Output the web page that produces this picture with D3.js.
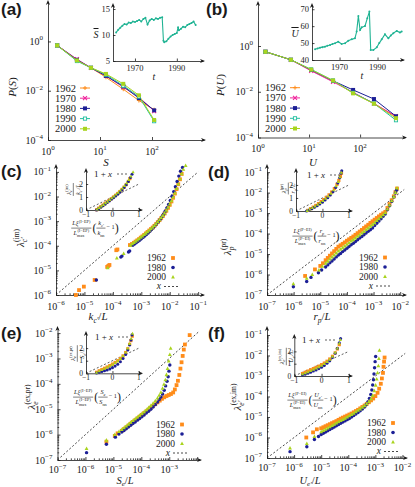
<!DOCTYPE html>
<html><head><meta charset="utf-8">
<script src="https://cdn.jsdelivr.net/npm/d3@7"></script>
<style>
html,body{margin:0;padding:0;background:#fff;}
svg{display:block;}
svg text{font-family:"Liberation Serif","DejaVu Serif",serif;fill:#1a1a1a;}
</style></head>
<body>
<svg id="fig" width="415" height="487"></svg>
<script>
// ================= DATA =================
const years = ["1962","1970","1980","1990","2000"];
// (a) distribution of S
const sizeS = [1.5, 3.6, 6.7, 13, 28, 56, 110];
const pS_1962 = [0.69, 0.17, 0.085, 0.035, 0.0115, 0.0040, 0.0017];
const pS_1970 = [0.69, 0.19, 0.085, 0.040, 0.014, 0.0055, 0.0015];
const pS_1980 = [0.69, 0.18, 0.085, 0.040, 0.015, 0.0050, 0.0016];
const pS_1990 = [0.69, 0.16, 0.085, 0.045, 0.016, 0.0058, 0.00058];
const pS_2000 = [0.69, 0.17, 0.085, 0.048, 0.019, 0.0065, 0.00065];
// (b) distribution of U
const sizeU = [1.4, 4.4, 11, 29.5, 73, 187, 505];
const pU_1962 = [0.56, 0.25, 0.090, 0.030, 0.0090, 0.0031, 0.00080];
const pU_1970 = [0.56, 0.25, 0.082, 0.027, 0.0095, 0.0030, 0.00085];
const pU_1980 = [0.56, 0.25, 0.090, 0.030, 0.0120, 0.0048, 0.00085];
const pU_1990 = [0.56, 0.25, 0.095, 0.031, 0.0090, 0.0031, 0.00057];
const pU_2000 = [0.56, 0.25, 0.093, 0.031, 0.0085, 0.0030, 0.00070];
// insets: mean S and U over time
const tS = [1961,1962,1963,1964,1965,1966,1967,1968,1969,1970,1971,1972,1973,1974,1975,1976,1977,1978,1979,1980,1981,1982,1983,1983.6,1984,1985,1986,1987,1988,1989,1990,1990.6,1991,1992,1993,1994,1995,1996,1997,1998,1999];
const sBar = [10.5,11.0,11.4,11.8,12.1,12.0,12.4,12.3,12.6,12.5,12.7,12.9,12.6,13.1,13.3,12.0,12.8,13.1,12.9,13.2,13.1,13.3,13.4,8.9,8.6,8.8,9.3,9.7,10.0,10.2,10.4,11.5,10.9,11.2,11.6,11.5,11.9,12.1,12.3,12.6,11.9];
const tU = [1957.1,1958.4,1959.7,1961,1962.3,1963.6,1965,1966.3,1967.6,1969.3,1971.1,1972.9,1974.6,1976.4,1978.1,1979,1979.9,1980.8,1981.7,1983.4,1984.6,1985.7,1986.4,1987.8,1989.6,1990.9,1992.2,1993.9,1995.7,1997,1998.3,2000.1,2001.8,2002.7];
const uBar = [46.3,46.8,47.3,47.6,47.9,48.4,48.9,49.4,49.9,50.8,49.5,49.9,51.4,52.2,52.8,56.8,66,57.7,59.3,60.1,64.6,68.6,45.9,45.9,47.5,50.0,52.2,55.2,52.8,54.5,55.8,57.2,56.2,56.8];

// (c)-(f) scatter data, stored as [log10 x, log10 y]
const c_1962 = [[-5.30,-6.00],[-5.19,-5.80],[-5.02,-5.66],[-4.64,-5.39],[-4.20,-4.86],[-4.16,-4.82],[-4.12,-4.78],[-3.88,-4.18],[-3.84,-4.15],[-3.40,-3.97],[-3.33,-3.93],[-3.26,-3.88],[-3.20,-3.83],[-3.14,-3.78],[-3.08,-3.73],[-3.02,-3.67],[-2.96,-3.62],[-2.90,-3.56],[-2.84,-3.50],[-2.78,-3.44],[-2.72,-3.38],[-2.66,-3.32],[-2.60,-3.26],[-2.54,-3.19],[-2.48,-3.12],[-2.42,-3.04],[-2.36,-2.96],[-2.30,-2.88],[-2.24,-2.79],[-2.18,-2.69],[-2.12,-2.58],[-2.06,-2.46],[-2.00,-2.34],[-1.94,-2.20],[-1.88,-2.05],[-1.82,-1.88],[-1.76,-1.70],[-1.70,-1.50],[-1.64,-1.30],[-1.58,-1.08]];
const c_1980 = [[-4.58,-5.39],[-3.72,-4.46],[-3.68,-4.42],[-3.45,-4.25],[-3.41,-4.21],[-3.30,-3.98],[-3.24,-3.93],[-3.18,-3.88],[-3.12,-3.83],[-3.06,-3.78],[-3.00,-3.72],[-2.94,-3.66],[-2.88,-3.60],[-2.82,-3.54],[-2.76,-3.48],[-2.70,-3.41],[-2.64,-3.34],[-2.58,-3.27],[-2.52,-3.19],[-2.46,-3.11],[-2.40,-3.02],[-2.34,-2.93],[-2.28,-2.83],[-2.22,-2.72],[-2.16,-2.60],[-2.10,-2.46],[-2.04,-2.32],[-1.98,-2.16],[-1.92,-1.99],[-1.86,-1.80],[-1.80,-1.60],[-1.74,-1.39],[-1.68,-1.17],[-1.62,-0.97],[-1.55,-0.82]];
const c_2000 = [[-4.18,-4.90],[-3.86,-4.50],[-3.62,-4.32],[-3.38,-3.98],[-3.32,-3.92],[-3.26,-3.87],[-3.20,-3.82],[-3.14,-3.77],[-3.08,-3.72],[-3.02,-3.66],[-2.96,-3.61],[-2.90,-3.55],[-2.84,-3.49],[-2.78,-3.43],[-2.72,-3.37],[-2.66,-3.31],[-2.60,-3.25],[-2.54,-3.18],[-2.48,-3.11],[-2.42,-3.03],[-2.36,-2.95],[-2.30,-2.86],[-2.24,-2.77],[-2.18,-2.67],[-2.12,-2.56],[-2.06,-2.44],[-2.00,-2.31],[-1.94,-2.17],[-1.88,-2.02],[-1.82,-1.86],[-1.76,-1.68],[-1.70,-1.49],[-1.64,-1.28],[-1.58,-1.08],[-1.52,-0.90],[-1.44,-0.74]];

const d_1962 = [[-5.57,-6.07],[-5.20,-5.75],[-5.00,-5.58],[-4.90,-5.45],[-4.80,-5.30],[-4.72,-5.19],[-4.64,-5.08],[-4.56,-4.97],[-4.48,-4.86],[-4.40,-4.75],[-4.32,-4.64],[-4.24,-4.57],[-4.16,-4.50],[-4.08,-4.43],[-4.00,-4.35],[-3.92,-4.28],[-3.84,-4.21],[-3.76,-4.14],[-3.68,-4.06],[-3.60,-3.98],[-3.52,-3.90],[-3.44,-3.82],[-3.36,-3.73],[-3.28,-3.65],[-3.20,-3.57],[-3.12,-3.48],[-3.04,-3.40],[-2.96,-3.32],[-2.88,-3.24],[-2.80,-3.16],[-2.72,-3.08],[-2.64,-3.01],[-2.56,-2.94],[-2.48,-2.75],[-2.40,-2.56],[-2.32,-2.37],[-2.24,-2.18],[-2.18,-1.98],[-2.12,-1.80]];
const d_1980 = [[-6.01,-6.60],[-5.51,-6.34],[-5.35,-6.14],[-5.07,-5.91],[-4.95,-5.78],[-4.80,-5.63],[-4.72,-5.53],[-4.64,-5.43],[-4.56,-5.34],[-4.48,-5.24],[-4.40,-5.14],[-4.32,-5.05],[-4.24,-4.97],[-4.16,-4.88],[-4.08,-4.80],[-4.00,-4.72],[-3.92,-4.63],[-3.84,-4.55],[-3.76,-4.47],[-3.68,-4.39],[-3.60,-4.30],[-3.52,-4.22],[-3.44,-4.14],[-3.36,-4.06],[-3.28,-3.97],[-3.20,-3.89],[-3.12,-3.81],[-3.04,-3.73],[-2.96,-3.61],[-2.88,-3.50],[-2.80,-3.39],[-2.72,-3.28],[-2.64,-3.16],[-2.56,-3.05],[-2.48,-2.84],[-2.40,-2.64],[-2.32,-2.43],[-2.24,-2.22],[-2.18,-2.02],[-2.14,-1.88]];
const d_2000 = [[-6.01,-6.46],[-5.51,-6.19],[-5.30,-6.00],[-5.05,-5.78],[-4.92,-5.60],[-4.80,-5.45],[-4.72,-5.35],[-4.64,-5.25],[-4.56,-5.15],[-4.48,-5.05],[-4.40,-4.95],[-4.32,-4.85],[-4.24,-4.77],[-4.16,-4.69],[-4.08,-4.61],[-4.00,-4.53],[-3.92,-4.45],[-3.84,-4.37],[-3.76,-4.30],[-3.68,-4.22],[-3.60,-4.14],[-3.52,-4.06],[-3.44,-3.98],[-3.36,-3.90],[-3.28,-3.81],[-3.20,-3.73],[-3.12,-3.65],[-3.04,-3.56],[-2.96,-3.47],[-2.88,-3.37],[-2.80,-3.28],[-2.72,-3.18],[-2.64,-3.08],[-2.56,-2.99],[-2.48,-2.80],[-2.40,-2.61],[-2.32,-2.40],[-2.24,-2.20],[-2.18,-2.00],[-2.12,-1.78]];

const e_1962 = [[-5.25,-6.28],[-4.95,-6.05],[-4.85,-5.95],[-4.70,-5.85],[-4.62,-5.78],[-4.54,-5.71],[-4.46,-5.64],[-4.38,-5.57],[-4.30,-5.50],[-4.22,-5.43],[-4.14,-5.36],[-4.06,-5.29],[-3.98,-5.22],[-3.90,-5.15],[-3.82,-5.08],[-3.74,-5.01],[-3.66,-4.94],[-3.58,-4.87],[-3.50,-4.80],[-3.42,-4.73],[-3.34,-4.66],[-3.26,-4.59],[-3.18,-4.53],[-3.10,-4.48],[-3.02,-4.44],[-2.94,-4.40],[-2.86,-4.34],[-2.80,-4.22],[-2.74,-4.05],[-2.69,-3.88],[-2.64,-3.65],[-2.60,-3.40],[-2.56,-3.15],[-2.52,-2.90],[-2.48,-2.65],[-2.44,-2.45],[-2.27,-2.08]];
const e_1980 = [[-5.96,-6.71],[-5.25,-6.38],[-4.93,-6.10],[-4.80,-5.98],[-4.70,-5.90],[-4.62,-5.84],[-4.54,-5.77],[-4.46,-5.70],[-4.38,-5.63],[-4.30,-5.56],[-4.22,-5.50],[-4.14,-5.43],[-4.06,-5.37],[-3.98,-5.30],[-3.90,-5.23],[-3.82,-5.15],[-3.74,-5.08],[-3.66,-5.00],[-3.58,-4.91],[-3.50,-4.82],[-3.42,-4.72],[-3.36,-4.62],[-3.30,-4.52],[-3.24,-4.40],[-3.18,-4.25],[-3.13,-4.08],[-3.08,-3.90],[-3.04,-3.72],[-3.01,-3.50],[-2.98,-3.26]];
const e_2000 = [[-5.96,-6.55],[-5.25,-6.22],[-4.95,-6.00],[-4.80,-5.88],[-4.70,-5.80],[-4.62,-5.73],[-4.54,-5.66],[-4.46,-5.59],[-4.38,-5.52],[-4.30,-5.45],[-4.22,-5.38],[-4.14,-5.31],[-4.06,-5.24],[-3.98,-5.17],[-3.90,-5.10],[-3.82,-5.02],[-3.74,-4.94],[-3.66,-4.86],[-3.58,-4.77],[-3.50,-4.67],[-3.42,-4.56],[-3.36,-4.45],[-3.30,-4.33],[-3.24,-4.18],[-3.19,-4.02],[-3.14,-3.84],[-3.10,-3.64],[-3.06,-3.40],[-3.02,-3.10],[-2.98,-2.85],[-2.95,-2.60]];

const f_1962 = [[-5.55,-6.00],[-5.30,-5.75],[-5.16,-5.60],[-5.00,-5.55],[-4.92,-5.50],[-4.84,-5.45],[-4.76,-5.40],[-4.68,-5.35],[-4.60,-5.30],[-4.52,-5.25],[-4.44,-5.20],[-4.36,-5.14],[-4.28,-5.08],[-4.20,-5.03],[-4.12,-4.98],[-4.04,-4.93],[-3.96,-4.88],[-3.88,-4.83],[-3.80,-4.77],[-3.72,-4.71],[-3.64,-4.65],[-3.56,-4.58],[-3.48,-4.51],[-3.40,-4.44],[-3.32,-4.36],[-3.24,-4.28],[-3.16,-4.19],[-3.08,-4.10],[-3.00,-3.98],[-2.92,-3.82],[-2.86,-3.62],[-2.80,-3.38],[-2.76,-3.12],[-2.72,-2.85],[-2.70,-2.55],[-2.68,-2.30],[-2.66,-2.10]];
const f_1980 = [[-6.15,-6.69],[-5.53,-6.45],[-5.25,-6.10],[-5.10,-5.95],[-5.00,-5.85],[-4.92,-5.79],[-4.84,-5.73],[-4.76,-5.67],[-4.68,-5.61],[-4.60,-5.55],[-4.52,-5.49],[-4.44,-5.43],[-4.36,-5.37],[-4.28,-5.31],[-4.20,-5.25],[-4.12,-5.19],[-4.04,-5.13],[-3.96,-5.07],[-3.88,-5.00],[-3.80,-4.93],[-3.72,-4.86],[-3.64,-4.78],[-3.56,-4.70],[-3.48,-4.61],[-3.40,-4.51],[-3.34,-4.40],[-3.28,-4.27],[-3.22,-4.10],[-3.17,-3.90],[-3.13,-3.68],[-3.10,-3.44],[-3.07,-3.18],[-3.05,-2.90],[-3.03,-2.60],[-3.01,-2.30],[-2.99,-2.05]];
const f_2000 = [[-6.15,-6.52],[-5.53,-6.30],[-5.25,-5.95],[-5.00,-5.72],[-4.92,-5.66],[-4.84,-5.60],[-4.76,-5.54],[-4.68,-5.48],[-4.60,-5.42],[-4.52,-5.36],[-4.44,-5.30],[-4.36,-5.24],[-4.28,-5.18],[-4.20,-5.12],[-4.12,-5.06],[-4.04,-5.00],[-3.96,-4.94],[-3.88,-4.88],[-3.80,-4.82],[-3.72,-4.75],[-3.64,-4.68],[-3.56,-4.61],[-3.48,-4.53],[-3.40,-4.45],[-3.32,-4.36],[-3.24,-4.25],[-3.16,-4.12],[-3.10,-3.95],[-3.04,-3.72],[-2.99,-3.45],[-2.95,-3.15],[-2.92,-2.85],[-2.89,-2.50],[-2.87,-2.15],[-2.85,-1.75]];

// insets of (c)-(f): rescaled variables (linear)
const ci_1962 = [[-0.6,0.02],[-0.52,0.14],[-0.44,0.26],[-0.36,0.38],[-0.28,0.50],[-0.2,0.62],[-0.12,0.74],[-0.04,0.87],[0.04,1.0],[0.12,1.13],[0.2,1.27],[0.28,1.42],[0.36,1.58],[0.44,1.76],[0.52,1.96],[0.6,2.2],[0.66,2.42]];
const ci_1980 = [[-0.6,0.0],[-0.52,0.1],[-0.44,0.21],[-0.36,0.33],[-0.28,0.45],[-0.2,0.57],[-0.12,0.69],[-0.04,0.82],[0.04,0.95],[0.12,1.08],[0.2,1.22],[0.28,1.37],[0.36,1.54],[0.44,1.73],[0.52,1.95],[0.6,2.2],[0.68,2.5],[0.74,2.75]];
const ci_2000 = [[-0.58,0.05],[-0.5,0.17],[-0.42,0.29],[-0.34,0.41],[-0.26,0.53],[-0.18,0.66],[-0.1,0.79],[-0.02,0.92],[0.06,1.06],[0.14,1.2],[0.22,1.35],[0.3,1.51],[0.38,1.68],[0.46,1.87],[0.54,2.08],[0.62,2.32],[0.7,2.6],[0.78,2.92]];
const di_1962 = [[-0.55,0.05],[-0.45,0.18],[-0.35,0.3],[-0.25,0.43],[-0.15,0.57],[-0.05,0.72],[0.05,0.88],[0.15,1.05],[0.25,1.24],[0.35,1.46],[0.45,1.72],[0.55,2.05],[0.62,2.35],[0.68,2.65],[0.72,2.9]];
const di_1980 = [[-0.6,0.0],[-0.5,0.08],[-0.4,0.18],[-0.3,0.29],[-0.2,0.41],[-0.1,0.54],[0,0.68],[0.1,0.84],[0.2,1.02],[0.3,1.23],[0.4,1.48],[0.5,1.8],[0.58,2.15],[0.65,2.55],[0.7,2.9],[0.73,3.1]];
const di_2000 = [[-0.58,0.02],[-0.48,0.13],[-0.38,0.24],[-0.28,0.36],[-0.18,0.49],[-0.08,0.63],[0.02,0.78],[0.12,0.95],[0.22,1.13],[0.32,1.35],[0.42,1.6],[0.52,1.92],[0.6,2.25],[0.66,2.6],[0.71,2.95]];
const ei_1962 = [[-0.6,0.08],[-0.5,0.2],[-0.4,0.3],[-0.3,0.4],[-0.2,0.5],[-0.1,0.61],[0,0.73],[0.1,0.86],[0.2,1.0],[0.3,1.17],[0.4,1.38],[0.5,1.65],[0.58,1.95],[0.65,2.3],[0.7,2.6],[0.75,2.95]];
const ei_1980 = [[-0.6,0.02],[-0.5,0.08],[-0.4,0.14],[-0.3,0.2],[-0.2,0.27],[-0.1,0.35],[0,0.45],[0.1,0.57],[0.2,0.72],[0.3,0.92],[0.4,1.18],[0.5,1.5],[0.58,1.85],[0.65,2.25],[0.7,2.65],[0.74,3.05]];
const ei_2000 = [[-0.6,0.06],[-0.5,0.17],[-0.4,0.27],[-0.3,0.37],[-0.2,0.47],[-0.1,0.58],[0,0.7],[0.1,0.83],[0.2,0.98],[0.3,1.16],[0.4,1.38],[0.5,1.66],[0.58,1.98],[0.65,2.35],[0.71,2.75],[0.76,3.15]];
const fi_1962 = [[-0.7,0.2],[-0.6,0.3],[-0.5,0.4],[-0.4,0.5],[-0.3,0.6],[-0.2,0.7],[-0.1,0.8],[0,0.92],[0.1,1.05],[0.2,1.2],[0.3,1.38],[0.4,1.6],[0.5,1.88],[0.58,2.2],[0.65,2.55]];
const fi_1980 = [[-0.7,0.08],[-0.6,0.15],[-0.5,0.23],[-0.4,0.31],[-0.3,0.4],[-0.2,0.49],[-0.1,0.6],[0,0.72],[0.1,0.86],[0.2,1.03],[0.3,1.23],[0.4,1.5],[0.5,1.85],[0.58,2.25],[0.65,2.7],[0.7,3.05]];
const fi_2000 = [[-0.7,0.15],[-0.6,0.24],[-0.5,0.33],[-0.4,0.42],[-0.3,0.52],[-0.2,0.62],[-0.1,0.73],[0,0.85],[0.1,0.99],[0.2,1.15],[0.3,1.34],[0.4,1.58],[0.5,1.9],[0.58,2.25],[0.65,2.65],[0.69,2.95]];

// ================= STYLE =================
const INK = "#1a1a1a";
const COL = {"1962":"#ff8c1a","1970":"#f0259c","1980":"#1c1f96","1990":"#22bfa0","2000":"#a9d41e"};
const LINECOL = "#1fb393";
const svg = d3.select("#fig");

// ================= HELPERS =================
function layout(parent, items, fs) {
  let cx = 0;
  for (const it of items) {
    if (it.frac) {
      const fg = parent.append("g");
      const n = fg.append("g"), d = fg.append("g");
      const wn = layout(n, it.frac[0], fs), wd = layout(d, it.frac[1], fs);
      const w = Math.max(wn, wd) + 2;
      n.attr("transform", `translate(${cx + (w - wn) / 2},${-fs * 0.72})`);
      d.attr("transform", `translate(${cx + (w - wd) / 2},${fs * 0.78})`);
      fg.append("line").attr("x1", cx).attr("x2", cx + w).attr("y1", -fs * 0.3).attr("y2", -fs * 0.3)
        .attr("stroke", INK).attr("stroke-width", 0.55);
      cx += w + 1;
      continue;
    }
    const f = fs * (it.sc || 1);
    let w = 0;
    if (it.t) {
      const t = parent.append("text").attr("x", cx).attr("y", it.dy || 0).attr("font-size", f).text(it.t);
      if (it.it) t.attr("font-style", "italic");
      w = t.node().getComputedTextLength();
    }
    let w2 = 0;
    if (it.sup) {
      const s = parent.append("text").attr("x", cx + w + 0.3).attr("y", -fs * 0.42).attr("font-size", fs * 0.68).text(it.sup);
      w2 = Math.max(w2, s.node().getComputedTextLength() + 0.3);
    }
    if (it.sub) {
      const s = parent.append("text").attr("x", cx + w).attr("y", fs * 0.28).attr("font-size", fs * 0.68).text(it.sub);
      if (!it.subup) s.attr("font-style", "italic");
      w2 = Math.max(w2, s.node().getComputedTextLength());
    }
    cx += w + w2;
  }
  return cx;
}
function hlabel(x, y, items, fs, anchor = "middle") {
  const g = svg.append("g");
  const w = layout(g, items, fs);
  const dx = anchor === "middle" ? -w / 2 : anchor === "end" ? -w : 0;
  g.attr("transform", `translate(${x + dx},${y})`);
}
function rlabel(x, y, items, fs) {
  const g = svg.append("g").attr("transform", `translate(${x},${y}) rotate(-90)`);
  const inner = g.append("g");
  const w = layout(inner, items, fs);
  inner.attr("transform", `translate(${-w / 2},${fs * 0.35})`);
}
function logText(sel, v, fs) {
  const k = Math.round(Math.log10(v));
  sel.text("10").append("tspan").attr("dy", -fs * 0.45).attr("font-size", fs * 0.7).text(k < 0 ? "−" + (-k) : String(k));
}
function arrowR(g, x, y) { g.append("path").attr("d", `M${x},${y}L${x - 5},${y - 2.1}L${x - 3.6},${y}L${x - 5},${y + 2.1}Z`).attr("fill", INK); }
function arrowU(g, x, y) { g.append("path").attr("d", `M${x},${y}L${x - 2.1},${y + 5}L${x},${y + 3.6}L${x + 2.1},${y + 5}Z`).attr("fill", INK); }
function minorsOf(lo, hi) { const m = []; for (let k = lo; k < hi; k++) for (let j = 2; j <= 9; j++) m.push(j * Math.pow(10, k)); return m; }

function frame(x, y, o) {
  const g = svg.append("g");
  const [xa, xb] = x.range(), [yb, yt] = y.range();
  const ts = o.ts || 3;
  g.append("g").attr("transform", `translate(0,${yb})`)
    .call(d3.axisBottom(x).tickValues(o.xt).tickSize(-ts).tickSizeOuter(0).tickFormat(""));
  g.append("g").attr("transform", `translate(${xa},0)`)
    .call(d3.axisLeft(y).tickValues(o.yt).tickSize(-ts).tickSizeOuter(0).tickFormat(""));
  if (o.xm) g.append("g").attr("transform", `translate(0,${yb})`)
    .call(d3.axisBottom(x).tickValues(o.xm.filter(v => x(v) < xb - 3)).tickSize(-ts * 0.55).tickFormat("")).select(".domain").remove();
  if (o.ym) g.append("g").attr("transform", `translate(${xa},0)`)
    .call(d3.axisLeft(y).tickValues(o.ym.filter(v => y(v) > yt + 3)).tickSize(-ts * 0.55).tickFormat("")).select(".domain").remove();
  g.selectAll(".domain,.tick line").attr("stroke", INK).attr("stroke-width", o.sw || 0.8);
  g.selectAll(".tick text").remove();
  arrowR(g, xb + 2, yb); arrowU(g, xa, yt - 2);
  const fs = o.fs;
  (o.xl || []).forEach(v => {
    const t = g.append("text").attr("x", x(v) + (o.xlDx || 0)).attr("y", yb + o.xlo).attr("text-anchor", "middle").attr("font-size", fs);
    if (o.log) logText(t, v, fs); else t.text(o.fmt(v));
  });
  (o.yl || []).forEach(v => {
    const t = g.append("text").attr("x", xa - o.ylo).attr("y", y(v) + fs * 0.35).attr("text-anchor", "end").attr("font-size", fs);
    if (o.log) logText(t, v, fs); else t.text(o.fmt(v));
  });
  return g;
}
function marker(g, type, cx, cy, col, sz) {
  const h = sz / 2;
  if (type === "plus") g.append("path").attr("d", `M${cx - h},${cy}H${cx + h}M${cx},${cy - h}V${cy + h}`).attr("stroke", col).attr("stroke-width", 1);
  else if (type === "cross") g.append("path").attr("d", `M${cx - h},${cy - h}L${cx + h},${cy + h}M${cx - h},${cy + h}L${cx + h},${cy - h}`).attr("stroke", col).attr("stroke-width", 1.1);
  else if (type === "sq") g.append("rect").attr("x", cx - h).attr("y", cy - h).attr("width", sz).attr("height", sz).attr("fill", col);
  else if (type === "osq") g.append("rect").attr("x", cx - h + 0.4).attr("y", cy - h + 0.4).attr("width", sz - 0.8).attr("height", sz - 0.8).attr("fill", "#fff").attr("stroke", col).attr("stroke-width", 0.9);
  else if (type === "circ") g.append("circle").attr("cx", cx).attr("cy", cy).attr("r", h * 0.95).attr("fill", col);
  else if (type === "tri") g.append("path").attr("d", `M${cx},${cy - h * 1.1}L${cx + h},${cy + h * 0.75}L${cx - h},${cy + h * 0.75}Z`).attr("fill", col);
}
function panelLabel(x, y, s) {
  svg.append("text").attr("x", x).attr("y", y).attr("font-size", 17).attr("font-weight", "bold")
    .style("font-family", "'Liberation Sans',Arial,sans-serif").text(s);
}

// ================= PANELS (a),(b) =================
const markers5 = ["plus", "cross", "sq", "osq", "sq"];
function distPanel(p) {
  frame(p.x, p.y, { xt: p.xt, yt: p.yt, xl: p.xt, yl: p.yt, log: true, fs: 10, xlo: 14.5, ylo: 5 });
  const lg = d3.line().x(d => p.x(d[0])).y(d => p.y(d[1]));
  const g = svg.append("g");
  p.series.forEach((vals, i) => {
    const pts = p.sizes.map((s, j) => [s, vals[j]]);
    g.append("path").datum(pts).attr("d", lg).attr("fill", "none").attr("stroke", COL[years[i]]).attr("stroke-width", 1);
  });
  p.series.forEach((vals, i) => {
    p.sizes.forEach((s, j) => marker(g, markers5[i], p.x(s), p.y(vals[j]), COL[years[i]], 4));
  });
  years.forEach((yr, i) => {
    const yy = p.legY + i * 10.2;
    svg.append("text").attr("x", p.legX).attr("y", yy + 3.5).attr("font-size", 10.5).text(yr);
    svg.append("line").attr("x1", p.legL).attr("x2", p.legL + 10).attr("y1", yy).attr("y2", yy).attr("stroke", COL[yr]).attr("stroke-width", 1);
    marker(svg, markers5[i], p.legL + 5, yy, COL[yr], 4);
  });
}
function tsInset(p) {
  frame(p.x, p.y, { xt: p.xt, yt: p.yt, xl: p.xt, yl: p.yt, fmt: v => String(v), fs: 8.5, xlo: 9.5, ylo: 3, ts: 2.5, sw: 0.8 });
  const pts = p.t.map((t, i) => [t, p.v[i]]);
  svg.append("path").datum(pts).attr("d", d3.line().x(d => p.x(d[0])).y(d => p.y(d[1])))
    .attr("fill", "none").attr("stroke", LINECOL).attr("stroke-width", 1.1);
  svg.append("g").selectAll("circle").data(pts).join("circle")
    .attr("cx", d => p.x(d[0])).attr("cy", d => p.y(d[1])).attr("r", 1).attr("fill", LINECOL);
}

// (a)
const xA = d3.scaleLog().domain([1, 1000]).range([48, 204]);
const yA = d3.scaleLog().domain([1e-4, Math.pow(10, 1.6)]).range([140, 2]);
distPanel({ x: xA, y: yA, xt: [1, 10, 100], yt: [1e-4, 1e-2, 1], sizes: sizeS,
  series: [pS_1962, pS_1970, pS_1980, pS_1990, pS_2000], legX: 55, legL: 80, legY: 88 });
const xIa = d3.scaleLinear().domain([1959.5, 2002.5]).range([113, 203]);
const yIa = d3.scaleLinear().domain([5, 15.77]).range([61, 5]);
tsInset({ x: xIa, y: yIa, xt: [1970, 1990], yt: [5, 10, 15], t: tS, v: sBar });
svg.append("text").attr("x", 96).attr("y", 38).attr("font-size", 10).attr("font-style", "italic").attr("text-anchor", "middle").style("text-decoration", "overline").text("S");
svg.append("text").attr("x", 154).attr("y", 80).attr("font-size", 10).attr("font-style", "italic").attr("text-anchor", "middle").text("t");
rlabel(12, 87, [{ t: "P", it: 1 }, { t: "(" }, { t: "S", it: 1 }, { t: ")" }], 11);
hlabel(106, 166, [{ t: "S", it: 1 }], 11);
panelLabel(1, 15, "(a)");

// (b)
const xB = d3.scaleLog().domain([1, Math.pow(10, 2.88)]).range([258, 405]);
const yB = d3.scaleLog().domain([1e-4, Math.pow(10, 1.88)]).range([137.5, 3]);
distPanel({ x: xB, y: yB, xt: [1, 10, 100], yt: [1e-4, 1e-2, 1], sizes: sizeU,
  series: [pU_1962, pU_1970, pU_1980, pU_1990, pU_2000], legX: 265, legL: 290, legY: 87.7 });
const xIb = d3.scaleLinear().domain([1955.5, 2003.4]).range([312, 403]);
const yIb = d3.scaleLinear().domain([40, 72.5]).range([60, 5]);
tsInset({ x: xIb, y: yIb, xt: [1970, 1990], yt: [40, 50, 60, 70], t: tU, v: uBar });
svg.append("text").attr("x", 295).attr("y", 37).attr("font-size", 10).attr("font-style", "italic").attr("text-anchor", "middle").style("text-decoration", "overline").text("U");
svg.append("text").attr("x", 362).attr("y", 79).attr("font-size", 10).attr("font-style", "italic").attr("text-anchor", "middle").text("t");
rlabel(220, 85, [{ t: "P", it: 1 }, { t: "(" }, { t: "U", it: 1 }, { t: ")" }], 11);
hlabel(313, 166, [{ t: "U", it: 1 }], 11);
panelLabel(206, 15, "(b)");

// ================= PANELS (c)-(f) =================
const sMark = { "1962": "sq", "1980": "circ", "2000": "tri" };
function scatterPanel(p) {
  const [lx0, lx1] = [Math.round(Math.log10(p.x.domain()[0])), Math.ceil(Math.log10(p.x.domain()[1]))];
  const [ly0, ly1] = [Math.round(Math.log10(p.y.domain()[0])), Math.ceil(Math.log10(p.y.domain()[1]))];
  const majX = d3.range(lx0, lx1).map(k => Math.pow(10, k));
  const majY = d3.range(ly0, ly1).map(k => Math.pow(10, k));
  frame(p.x, p.y, { xt: majX, yt: majY, xm: minorsOf(lx0, lx1), ym: minorsOf(ly0, ly1), xl: p.xl, yl: p.yl, log: true, fs: 10, xlo: p.xlo || 14.5, ylo: 5 });
  const a = Math.max(p.x.domain()[0], p.y.domain()[0]), b = p.lineEnd;
  svg.append("path").datum([[a, a], [b, b]]).attr("d", d3.line().x(d => p.x(d[0])).y(d => p.y(d[1])))
    .attr("stroke", INK).attr("stroke-width", 0.8).attr("stroke-dasharray", "2,2").attr("fill", "none");
  const g = svg.append("g");
  ["1962", "1980", "2000"].forEach((yr, i) => {
    p.data[i].forEach(d => marker(g, sMark[yr], p.x(Math.pow(10, d[0])), p.y(Math.pow(10, d[1])), COL[yr], yr === "1980" ? 3.6 : 3.8));
  });
  ["1962", "1980", "2000"].forEach((yr, i) => {
    const yy = p.legY[i];
    svg.append("text").attr("x", p.legM - 7).attr("y", yy + 3.2).attr("text-anchor", "end").attr("font-size", 9.5).text(yr);
    marker(svg, sMark[yr], p.legM, yy, COL[yr], 3.8);
  });
  svg.append("text").attr("x", p.legM - 12).attr("y", p.legY[3] + 2.5).attr("text-anchor", "end").attr("font-size", 9.5).attr("font-style", "italic").text("x");
  svg.append("line").attr("x1", p.legM - 9).attr("x2", p.legM + 5).attr("y1", p.legY[3]).attr("y2", p.legY[3])
    .attr("stroke", INK).attr("stroke-width", 0.8).attr("stroke-dasharray", "2,2");
  // inset
  const ix = p.ix, iy = p.iy;
  frame(ix, iy, { xt: [-1, 0, 1], yt: [0, 1, 2], xl: [-1, 0, 1], yl: [0, 1, 2], fmt: v => v < 0 ? "−" + (-v) : String(v), fs: 7.5, xlo: 7, ylo: 3, ts: 2.2 });
  svg.append("path").datum([[-1, 0], [1, 2]]).attr("d", d3.line().x(d => ix(d[0])).y(d => iy(d[1])))
    .attr("stroke", INK).attr("stroke-width", 0.7).attr("stroke-dasharray", "2,2").attr("fill", "none");
  const gi = svg.append("g");
  ["1962", "1980", "2000"].forEach((yr, i) => {
    p.idata[i].forEach(d => marker(gi, sMark[yr], ix(d[0]), iy(d[1]), COL[yr], 3.2));
  });
  svg.append("text").attr("x", p.onePx[0]).attr("y", p.onePx[1] + 3).attr("font-size", 9).attr("text-anchor", "end")
    .html('1 + <tspan font-style="italic">x</tspan>');
  svg.append("line").attr("x1", p.onePx[0] + 5).attr("x2", p.onePx[0] + 15).attr("y1", p.onePx[1]).attr("y2", p.onePx[1])
    .attr("stroke", INK).attr("stroke-width", 0.7).attr("stroke-dasharray", "2,2");
  rlabel(p.iyLab[0], p.iyLab[1], p.iyItems, 6.3);
  hlabel(p.ixLab[0], p.ixLab[1], p.ixItems, 6.3);
  rlabel(p.yLab[0], p.yLab[1], p.yItems, 11);
  hlabel(p.xLab[0], p.xLab[1], p.xItems, p.xfs || 11);
}
const bigL = { t: "(", sc: 1.9, dy: 2.2 }, bigR = { t: ")", sc: 1.9, dy: 2.2 };
function ixItems(tag, num, den) {
  return [{ frac: [[{ t: "Lξ", it: 1, sup: tag }], [{ t: "L", it: 1, sup: tag, sub: "max", subup: 1 }]] }, bigL,
    { frac: [num, den] }, { t: " − 1", dy: -1.5 }, bigR];
}

// (c)
scatterPanel({
  x: d3.scaleLog().domain([1e-6, Math.pow(10, -0.83)]).range([56, 203]),
  y: d3.scaleLog().domain([1e-6, Math.pow(10, -0.76)]).range([295, 166]),
  xl: [1e-6, 1e-5, 1e-4, 1e-3, 1e-2, 1e-1], yl: [1e-6, 1e-5, 1e-4, 1e-3, 1e-2, 1e-1], lineEnd: 1e-1,
  data: [c_1962, c_1980, c_2000], legM: 173, legY: [258, 267.5, 277, 286.5],
  ix: d3.scaleLinear().domain([-1, 1.08]).range([86, 141]), iy: d3.scaleLinear().domain([0, 3.08]).range([210, 170]),
  idata: [ci_1962, ci_1980, ci_2000], onePx: [112, 174],
  iyLab: [73, 189], iyItems: [{ frac: [[{ t: "λ", it: 1, sup: "(im)", sub: "c′" }], [{ t: "k", it: 1, sub: "c′" }, { t: "/" }, { t: "L", it: 1 }]] }],
  ixLab: [95, 230], ixItems: ixItems("(I−EP)", [{ t: "k", it: 1, sub: "c′" }], [{ t: "k", it: 1, sub: "nn", subup: 1 }]),
  yLab: [20, 238], yItems: [{ t: "λ", it: 1, sup: "(im)", sub: "c′" }],
  xLab: [98, 320], xItems: [{ t: "k", it: 1, sub: "c′" }, { t: "/" }, { t: "L", it: 1 }]
});
panelLabel(1, 177, "(c)");

// (d)
scatterPanel({
  x: d3.scaleLog().domain([1e-7, Math.pow(10, -1.82)]).range([267, 405]),
  y: d3.scaleLog().domain([1e-7, Math.pow(10, -0.7)]).range([295, 166]),
  xl: [1e-7, 1e-6, 1e-5, 1e-4, 1e-3, 1e-2], yl: [1e-7, 1e-6, 1e-5, 1e-4, 1e-3, 1e-2, 1e-1], lineEnd: Math.pow(10, -1.85),
  data: [d_1962, d_1980, d_2000], legM: 385, legY: [257.5, 267, 276.5, 286],
  ix: d3.scaleLinear().domain([-1, 1.08]).range([296, 351]), iy: d3.scaleLinear().domain([0, 3.15]).range([211, 170]),
  idata: [di_1962, di_1980, di_2000], onePx: [325, 175],
  iyLab: [288, 188], iyItems: [{ frac: [[{ t: "λ", it: 1, sup: "(pr)", sub: "p" }], [{ t: "r", it: 1, sub: "p" }, { t: "/" }, { t: "L", it: 1 }]] }],
  ixLab: [316, 238], ixItems: ixItems("(P−EI)", [{ t: "r", it: 1, sub: "p" }], [{ t: "r", it: 1, sub: "nn", subup: 1 }]),
  yLab: [227, 247], yItems: [{ t: "λ", it: 1, sup: "(pr)", sub: "p" }],
  xLab: [322, 320], xItems: [{ t: "r", it: 1, sub: "p" }, { t: "/" }, { t: "L", it: 1 }]
});
panelLabel(208, 178, "(d)");

// (e)
scatterPanel({
  x: d3.scaleLog().domain([1e-7, Math.pow(10, -1.9)]).range([57.5, 200]),
  y: d3.scaleLog().domain([1e-7, Math.pow(10, -1.8)]).range([460, 328]),
  xl: [1e-7, 1e-6, 1e-5, 1e-4, 1e-3], yl: [1e-7, 1e-6, 1e-5, 1e-4, 1e-3, 1e-2], lineEnd: Math.pow(10, -1.95), xlo: 13,
  data: [e_1962, e_1980, e_2000], legM: 182, legY: [424.5, 434, 443.5, 453],
  ix: d3.scaleLinear().domain([-1, 1.08]).range([86, 141]), iy: d3.scaleLinear().domain([0, 3.2]).range([373.3, 333]),
  idata: [ei_1962, ei_1980, ei_2000], onePx: [113, 337],
  iyLab: [77, 353], iyItems: [{ frac: [[{ t: "λ", it: 1, sup: "(ex,pr)", sub: "e" }], [{ t: "S", it: 1, sub: "e" }, { t: "/" }, { t: "L", it: 1 }]] }],
  ixLab: [97, 399], ixItems: ixItems("(I−EP)", [{ t: "S", it: 1, sub: "e" }], [{ t: "S", it: 1, sub: "nn", subup: 1 }]),
  yLab: [31, 397], yItems: [{ t: "λ", it: 1, sup: "(ex,pr)", sub: "e" }],
  xLab: [125, 483.5], xfs: 10.5, xItems: [{ t: "S", it: 1, sub: "e" }, { t: "/" }, { t: "L", it: 1 }]
});
panelLabel(1, 339, "(e)");

// (f)
scatterPanel({
  x: d3.scaleLog().domain([1e-7, Math.pow(10, -1.87)]).range([267, 406]),
  y: d3.scaleLog().domain([1e-7, Math.pow(10, -0.66)]).range([458, 328]),
  xl: [1e-7, 1e-6, 1e-5, 1e-4, 1e-3, 1e-2], yl: [1e-7, 1e-6, 1e-5, 1e-4, 1e-3, 1e-2, 1e-1], lineEnd: Math.pow(10, -1.9), xlo: 13,
  data: [f_1962, f_1980, f_2000], legM: 393, legY: [423, 432.5, 442, 451.5],
  ix: d3.scaleLinear().domain([-1, 1.08]).range([294.3, 351]), iy: d3.scaleLinear().domain([0, 3.25]).range([376, 336]),
  idata: [fi_1962, fi_1980, fi_2000], onePx: [320, 340],
  iyLab: [286, 356], iyItems: [{ frac: [[{ t: "λ", it: 1, sup: "(ex,im)", sub: "e′" }], [{ t: "U", it: 1, sub: "e′" }, { t: "/" }, { t: "L", it: 1 }]] }],
  ixLab: [312, 402], ixItems: ixItems("(P−EI)", [{ t: "U", it: 1, sub: "e′" }], [{ t: "U", it: 1, sub: "nn", subup: 1 }]),
  yLab: [237, 397], yItems: [{ t: "λ", it: 1, sup: "(ex,im)", sub: "e′" }],
  xLab: [310, 483.5], xfs: 10.5, xItems: [{ t: "U", it: 1, sub: "e′" }, { t: "/" }, { t: "L", it: 1 }]
});
panelLabel(208, 339, "(f)");
</script>
</body></html>
